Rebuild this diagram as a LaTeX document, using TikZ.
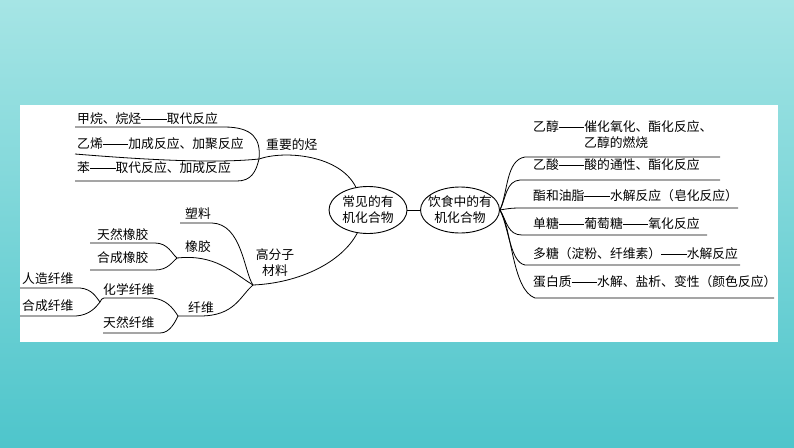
\documentclass[tikz,border=0pt]{standalone}
\usepackage{fontspec}
\setmainfont{Noto Sans CJK SC}
\usetikzlibrary{shapes.geometric}
\definecolor{bgtop}{RGB}{166,229,229}
\definecolor{bgbot}{RGB}{78,197,203}
\newcommand\cjkdash{\rule[0.3em]{2em}{0.06em}}
\begin{document}
\begin{tikzpicture}[x=1pt,y=-1pt,
  txt/.style={font=\fontsize{12.8}{16}\selectfont, inner sep=0pt, anchor=west},
  ctxt/.style={font=\fontsize{12.8}{16}\selectfont, inner sep=0pt, align=center},
  oval/.style={ellipse, draw, line width=0.9pt, font=\fontsize{12.8}{16}\selectfont, align=center, inner xsep=-6pt, inner ysep=-6pt},
  lnk/.style={draw=black, line width=0.8pt}]
\useasboundingbox (0,0) rectangle (794,447);
\shade[top color=bgtop, bottom color=bgbot] (0,0) rectangle (794,447);
\fill[white] (20,105) rectangle (778,342);

% ellipses
\node[oval, minimum width=78pt, minimum height=47pt] (e1) at (368,210) {常见的有\\机化合物};
\node[oval, minimum width=79pt, minimum height=46pt] (e2) at (460,210) {饮食中的有\\机化合物};
\draw[lnk] (e1.east) -- (e2.west);

% left top group
\node[txt] (t1) at (77,119) {甲烷、烷烃\cjkdash 取代反应};
\node[txt] (t2) at (77,144) {乙烯\cjkdash 加成反应、加聚反应};
\node[txt] (t3) at (77,168) {苯\cjkdash 取代反应、加成反应};
\node[txt] (hc) at (266,145) {重要的烃};
\coordinate (J1) at (259,159);
\coordinate (t1a) at (75,127); \coordinate (t1b) at (224,127);
\coordinate (t2a) at (75,154);
\coordinate (t3a) at (75,181); \coordinate (t3b) at (237,181);
\draw[lnk] (t1a) -- (t1b) .. controls (253,127) and (261,139) .. (J1);
\draw[lnk] (t2a) .. controls (160,161) and (220,163) .. (J1);
\draw[lnk] (t3a) -- (t3b) .. controls (251,181) and (256,172) .. (J1);
\draw[lnk] (J1) .. controls (285,150) and (340,155) .. (e1.118);

% left bottom group
\node[txt] (sl) at (185,214) {塑料};
\node[txt] (xj) at (185,247) {橡胶};
\node[ctxt] (gf) at (275,263) {高分子\\材料};
\node[txt] (trxj) at (97,235) {天然橡胶};
\node[txt] (hcxj) at (97,258) {合成橡胶};
\node[txt] (xw) at (188,308) {纤维};
\node[txt] (hxxw) at (103,290) {化学纤维};
\node[txt] (trxw) at (103,323) {天然纤维};
\node[txt] (rzxw) at (22,279) {人造纤维};
\node[txt] (hcxw) at (22,306) {合成纤维};

\coordinate (J3) at (253,285);
\coordinate (J7) at (177,258);
\coordinate (J4) at (178,316);
\coordinate (J6) at (100,302);
\coordinate (sla) at (180,223); \coordinate (slb) at (212,223);
\coordinate (tra) at (90,243); \coordinate (trb) at (155,243);
\coordinate (hca) at (90,270); \coordinate (hcb) at (155,270);
\coordinate (xwb) at (200,316);
\coordinate (hxa) at (104,298); \coordinate (hxb) at (152,298);
\coordinate (twa) at (103,333); \coordinate (twb) at (160,333);
\coordinate (rza) at (20,288); \coordinate (rzb) at (80,288);
\coordinate (hwa) at (20,316); \coordinate (hwb) at (76,316);

\draw[lnk] (J3) .. controls (300,283) and (342,262) .. (e1.245);
\draw[lnk] (sla) -- (slb) .. controls (242,224) and (244,272) .. (J3);
\draw[lnk] (J7) .. controls (215,254) and (232,272) .. (J3);
\draw[lnk] (tra) -- (trb) .. controls (168,243) and (172,254) .. (J7);
\draw[lnk] (hca) -- (hcb) .. controls (168,270) and (172,262) .. (J7);
\draw[lnk] (J4) -- (xwb) .. controls (235,316) and (240,296) .. (J3);
\draw[lnk] (J6) .. controls (101,300) and (102,298) .. (hxa) -- (hxb) .. controls (166,299) and (173,308) .. (J4);
\draw[lnk] (twa) -- (twb) .. controls (170,333) and (175,322) .. (J4);
\draw[lnk] (rza) -- (rzb) .. controls (92,289) and (96,297) .. (J6);
\draw[lnk] (hwa) -- (hwb) .. controls (90,315) and (96,307) .. (J6);

% right group
\node[txt] (r1a) at (533,127) {乙醇\cjkdash 催化氧化、酯化反应、};
\node[txt] (r1b) at (584,143) {乙醇的燃烧};
\node[txt] (r2) at (533,165) {乙酸\cjkdash 酸的通性、酯化反应};
\node[txt] (r3) at (533,196) {酯和油脂\cjkdash 水解反应（皂化反应）};
\node[txt] (r4) at (533,224) {单糖\cjkdash 葡萄糖\cjkdash 氧化反应};
\node[txt] (r5) at (533,254) {多糖（淀粉、纤维素）\cjkdash 水解反应};
\node[txt] (r6) at (533,282) {蛋白质\cjkdash 水解、盐析、变性（颜色反应）};

\coordinate (u1a) at (525,157); \coordinate (u1b) at (720,157);
\coordinate (u2a) at (520,180); \coordinate (u2b) at (720,180);
\coordinate (u3a) at (520,208); \coordinate (u3b) at (738,208);
\coordinate (u4a) at (522,235); \coordinate (u4b) at (707,235);
\coordinate (u5a) at (525,265); \coordinate (u5b) at (740,265);
\coordinate (u6a) at (535,298); \coordinate (u6b) at (774,298);
\draw[lnk] (e2.east) .. controls (508,192) and (506,160) .. (u1a) -- (u1b);
\draw[lnk] (e2.east) .. controls (506,198) and (506,181) .. (u2a) -- (u2b);
\draw[lnk] (e2.east) .. controls (506,209) and (510,208) .. (u3a) -- (u3b);
\draw[lnk] (e2.east) .. controls (507,222) and (508,235) .. (u4a) -- (u4b);
\draw[lnk] (e2.east) .. controls (509,228) and (510,262) .. (u5a) -- (u5b);
\draw[lnk] (e2.east) .. controls (512,228) and (512,290) .. (u6a) -- (u6b);
\end{tikzpicture}
\end{document}
